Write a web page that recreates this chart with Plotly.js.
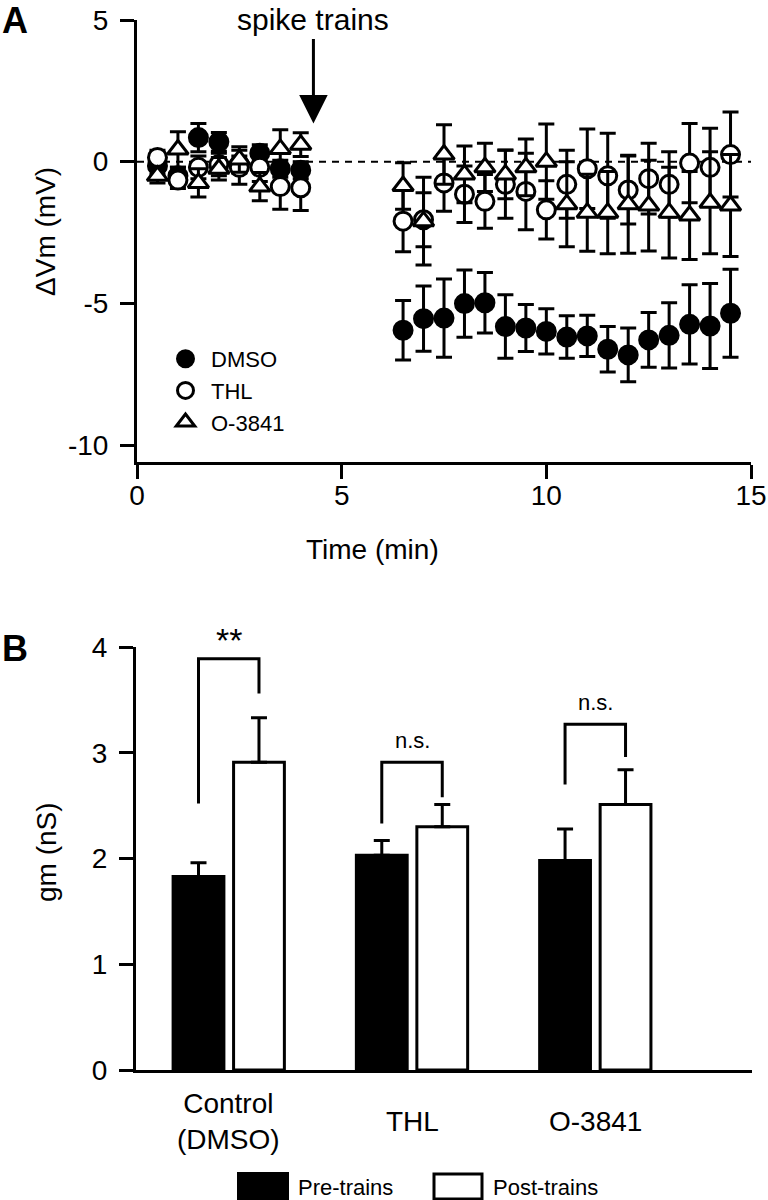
<!DOCTYPE html>
<html>
<head>
<meta charset="utf-8">
<script src="https://cdn.plot.ly/plotly-3.0.1.min.js"></script>
<style>
  html, body { margin: 0; padding: 0; background: #fff; }
  #plot { width: 768px; height: 1200px; }
</style>
</head>
<body>
<div id="plot"></div>
<script>
// Panel A: change in membrane potential (mV) vs time (min)
const time = [0.5, 1, 1.5, 2, 2.5, 3, 3.5, 4,
  6.5, 7, 7.5, 8, 8.5, 9, 9.5, 10, 10.5, 11, 11.5, 12, 12.5, 13, 13.5, 14, 14.5];

const dmso = [-0.15, -0.5, 0.85, 0.7, -0.1, 0.3, -0.25, -0.3,
  -5.95, -5.54, -5.52, -5.01, -4.98, -5.82, -5.87, -5.99, -6.19, -6.15, -6.62, -6.82, -6.29, -6.13, -5.74, -5.8, -5.35];
const dmsoErr = [0.3, 0.3, 0.5, 0.33, 0.3, 0.3, 0.3, 0.3,
  1.05, 1.15, 1.38, 1.19, 1.07, 1.12, 0.83, 0.8, 0.75, 0.73, 0.8, 0.95, 0.97, 1.15, 1.4, 1.5, 1.55];

const thl = [0.15, -0.65, -0.2, -0.1, -0.2, -0.2, -0.88, -0.92,
  -2.1, -2.05, -0.75, -1.15, -1.4, -0.8, -1.05, -1.7, -0.8, -0.25, -0.5, -1.0, -0.6, -0.8, -0.05, -0.2, 0.25];
const thlErr = [0.25, 0.3, 0.4, 0.4, 0.6, 0.5, 0.8, 0.8,
  1.08, 0.95, 1.0, 1.0, 0.95, 1.2, 1.35, 1.03, 1.2, 1.4, 1.5, 1.2, 1.25, 1.15, 1.4, 1.38, 1.5];

const o3841 = [-0.5, 0.43, -0.75, -0.25, 0.08, -0.88, 0.45, 0.6,
  -0.86, -2.1, 0.25, -0.45, -0.2, -0.45, -0.2, 0.0, -1.5, -1.8, -1.8, -1.5, -1.55, -1.8, -1.9, -1.45, -1.55];
const o3841Err = [0.25, 0.63, 0.5, 0.4, 0.45, 0.5, 0.68, 0.42,
  0.82, 1.55, 1.05, 1.0, 0.85, 0.86, 1.0, 1.33, 1.5, 1.36, 1.45, 1.73, 1.6, 1.6, 1.55, 1.8, 1.8];

const yTickVals = [-10, -5, 0, 5];
const yTickText = ['-10', '-5', '0', '5'];

// Panel B: membrane conductance (nS)
const groups = ['Control<br>(DMSO)', 'THL', 'O-3841'];
const preTrains = [1.83, 2.03, 1.98];
const preErr = [0.13, 0.14, 0.30];
const postTrains = [2.91, 2.30, 2.51];
const postErr = [0.42, 0.21, 0.33];
const sigLabels = ['**', 'n.s.', 'n.s.'];
// bracket levels: [left leg bottom, top, right leg bottom]
const bracketLeft = [2.52, 2.33, 2.70];
const bracketTop = [3.89, 2.91, 3.27];
const bracketRight = [3.56, 2.58, 2.96];

const FONT = 'Liberation Sans, Arial, Helvetica, sans-serif';
const W = 768, H = 1200;
const px = v => v / W;
const py = v => 1 - v / H;

const groupIdx = groups.map((g, i) => i);
const zeros = groups.map(() => 0);

function errBar(arr) {
  return { type: 'data', array: arr, visible: true, color: 'black', thickness: 3, width: 8 };
}

const markerLine = { color: 'black', width: 3 };

// DMSO drawn first so the open symbols sit on top of it
const traces = [
  {
    x: time, y: dmso, name: 'DMSO', type: 'scatter', mode: 'markers',
    xaxis: 'x', yaxis: 'y', legendrank: 1,
    marker: { symbol: 'circle', size: 18, color: 'black', line: markerLine },
    error_y: errBar(dmsoErr)
  },
  {
    x: time, y: thl, name: 'THL', type: 'scatter', mode: 'markers',
    xaxis: 'x', yaxis: 'y', legendrank: 2,
    marker: { symbol: 'circle', size: 18, color: 'white', line: markerLine },
    error_y: errBar(thlErr)
  },
  {
    x: time, y: o3841, name: 'O-3841', type: 'scatter', mode: 'markers',
    xaxis: 'x', yaxis: 'y', legendrank: 3,
    marker: { symbol: 'triangle-up', size: 18, color: 'white', line: markerLine },
    error_y: errBar(o3841Err)
  },
  {
    x: groupIdx, y: preTrains, name: 'Pre-trains', type: 'bar',
    xaxis: 'x2', yaxis: 'y2', showlegend: false,
    marker: { color: 'black', line: { color: 'black', width: 3 } },
    error_y: { type: 'data', symmetric: false, array: preErr, arrayminus: zeros, color: 'black', thickness: 3, width: 8 }
  },
  {
    x: groupIdx, y: postTrains, name: 'Post-trains', type: 'bar',
    xaxis: 'x2', yaxis: 'y2', showlegend: false,
    marker: { color: 'white', line: { color: 'black', width: 3 } },
    error_y: { type: 'data', symmetric: false, array: postErr, arrayminus: zeros, color: 'black', thickness: 3, width: 8 }
  }
];

const off = 0.165;
const shapes = [
  {
    type: 'line', xref: 'x', yref: 'y', x0: 0, x1: 15, y0: 0, y1: 0, layer: 'below',
    line: { color: 'black', width: 2, dash: '7px,6px' }
  }
];
groupIdx.forEach(i => {
  shapes.push({
    type: 'path', xref: 'x2', yref: 'y2',
    path: `M ${i - off} ${bracketLeft[i]} L ${i - off} ${bracketTop[i]} L ${i + off} ${bracketTop[i]} L ${i + off} ${bracketRight[i]}`,
    line: { color: 'black', width: 3 }
  });
});
// legend boxes for panel B
shapes.push({ type: 'rect', xref: 'paper', yref: 'paper', x0: px(238), x1: px(288), y0: py(1199), y1: py(1173),
  fillcolor: 'black', line: { color: 'black', width: 2 } });
shapes.push({ type: 'rect', xref: 'paper', yref: 'paper', x0: px(434), x1: px(482), y0: py(1199), y1: py(1174),
  fillcolor: 'white', line: { color: 'black', width: 3 } });

const annotations = [
  { text: '<b>A</b>', xref: 'paper', yref: 'paper', x: 0, y: py(20), xanchor: 'left', yanchor: 'middle',
    showarrow: false, font: { family: FONT, size: 36, color: 'black' } },
  { text: '<b>B</b>', xref: 'paper', yref: 'paper', x: 0, y: py(648), xanchor: 'left', yanchor: 'middle',
    showarrow: false, font: { family: FONT, size: 36, color: 'black' } },
  { text: 'spike trains', xref: 'x', yref: 'paper', x: 4.31, y: py(19), xanchor: 'center', yanchor: 'middle',
    showarrow: false, font: { family: FONT, size: 30, color: 'black' } },
  { text: '', xref: 'x', yref: 'y', x: 4.31, y: 1.35, ax: 0, ay: -86,
    showarrow: true, arrowhead: 2, arrowsize: 1.9, arrowwidth: 3, arrowcolor: 'black' },
  { text: 'Time (min)', xref: 'paper', yref: 'paper', x: px(372), y: py(550), xanchor: 'center', yanchor: 'middle',
    showarrow: false, font: { family: FONT, size: 28, color: 'black' } },
  { text: '\u0394Vm (mV)', xref: 'paper', yref: 'paper', x: px(45), y: py(232), xanchor: 'center', yanchor: 'middle',
    textangle: -90, showarrow: false, font: { family: FONT, size: 28, color: 'black' } },
  { text: 'gm (nS)', xref: 'paper', yref: 'paper', x: px(46), y: py(852), xanchor: 'center', yanchor: 'middle',
    textangle: -90, showarrow: false, font: { family: FONT, size: 28, color: 'black' } },
  { text: 'Pre-trains', xref: 'paper', yref: 'paper', x: px(296), y: py(1187), xanchor: 'left', yanchor: 'middle',
    showarrow: false, font: { family: FONT, size: 22, color: 'black' } },
  { text: 'Post-trains', xref: 'paper', yref: 'paper', x: px(491), y: py(1187), xanchor: 'left', yanchor: 'middle',
    showarrow: false, font: { family: FONT, size: 22, color: 'black' } }
];
groupIdx.forEach(i => {
  annotations.push({ text: groups[i], xref: 'x2', yref: 'paper', x: i, y: py(1121), xanchor: 'center', yanchor: 'middle',
    showarrow: false, font: { family: FONT, size: 28, color: 'black' } });
  annotations.push({ text: sigLabels[i], xref: 'x2', yref: 'y2', x: i, y: bracketTop[i], xanchor: 'center', yanchor: 'bottom',
    yshift: i === 0 ? -2 : 7, showarrow: false,
    font: { family: FONT, size: i === 0 ? 34 : 22, color: 'black' } });
});

const axisCommon = {
  showline: true, linecolor: 'black', linewidth: 3, mirror: false,
  showgrid: false, zeroline: false,
  ticks: 'outside', ticklen: 14, tickwidth: 3, tickcolor: 'black',
  tickfont: { family: FONT, size: 28, color: 'black' }
};

const layout = {
  width: W, height: H,
  margin: { l: 0, r: 0, t: 0, b: 0 },
  paper_bgcolor: 'white', plot_bgcolor: 'white',
  font: { family: FONT, color: 'black' },
  showlegend: true,
  legend: {
    x: px(160), y: py(338), xanchor: 'left', yanchor: 'top',
    font: { family: FONT, size: 22, color: 'black' },
    itemwidth: 41,
    bgcolor: 'rgba(0,0,0,0)', itemclick: false
  },
  barmode: 'group', bargap: 0.34, bargroupgap: 0.16,
  xaxis: Object.assign({}, axisCommon, {
    domain: [px(137), px(751)], range: [0, 15], anchor: 'y',
    tickvals: [0, 5, 10, 15], ticklabelstandoff: -8
  }),
  yaxis: Object.assign({}, axisCommon, {
    domain: [py(462), py(20)], range: [-10.6, 5], anchor: 'x',
    tickvals: yTickVals, ticktext: yTickText, ticklabelstandoff: 6
  }),
  xaxis2: Object.assign({}, axisCommon, {
    domain: [px(136), px(752)], range: [-0.506, 2.855], anchor: 'y2',
    ticks: '', showticklabels: false
  }),
  yaxis2: Object.assign({}, axisCommon, {
    domain: [py(1070), py(647)], range: [0, 4], anchor: 'x2',
    tickvals: [0, 1, 2, 3, 4], ticklabelstandoff: 6
  }),
  shapes: shapes,
  annotations: annotations
};

Plotly.newPlot('plot', traces, layout, { staticPlot: true, displayModeBar: false });
</script>
</body>
</html>
